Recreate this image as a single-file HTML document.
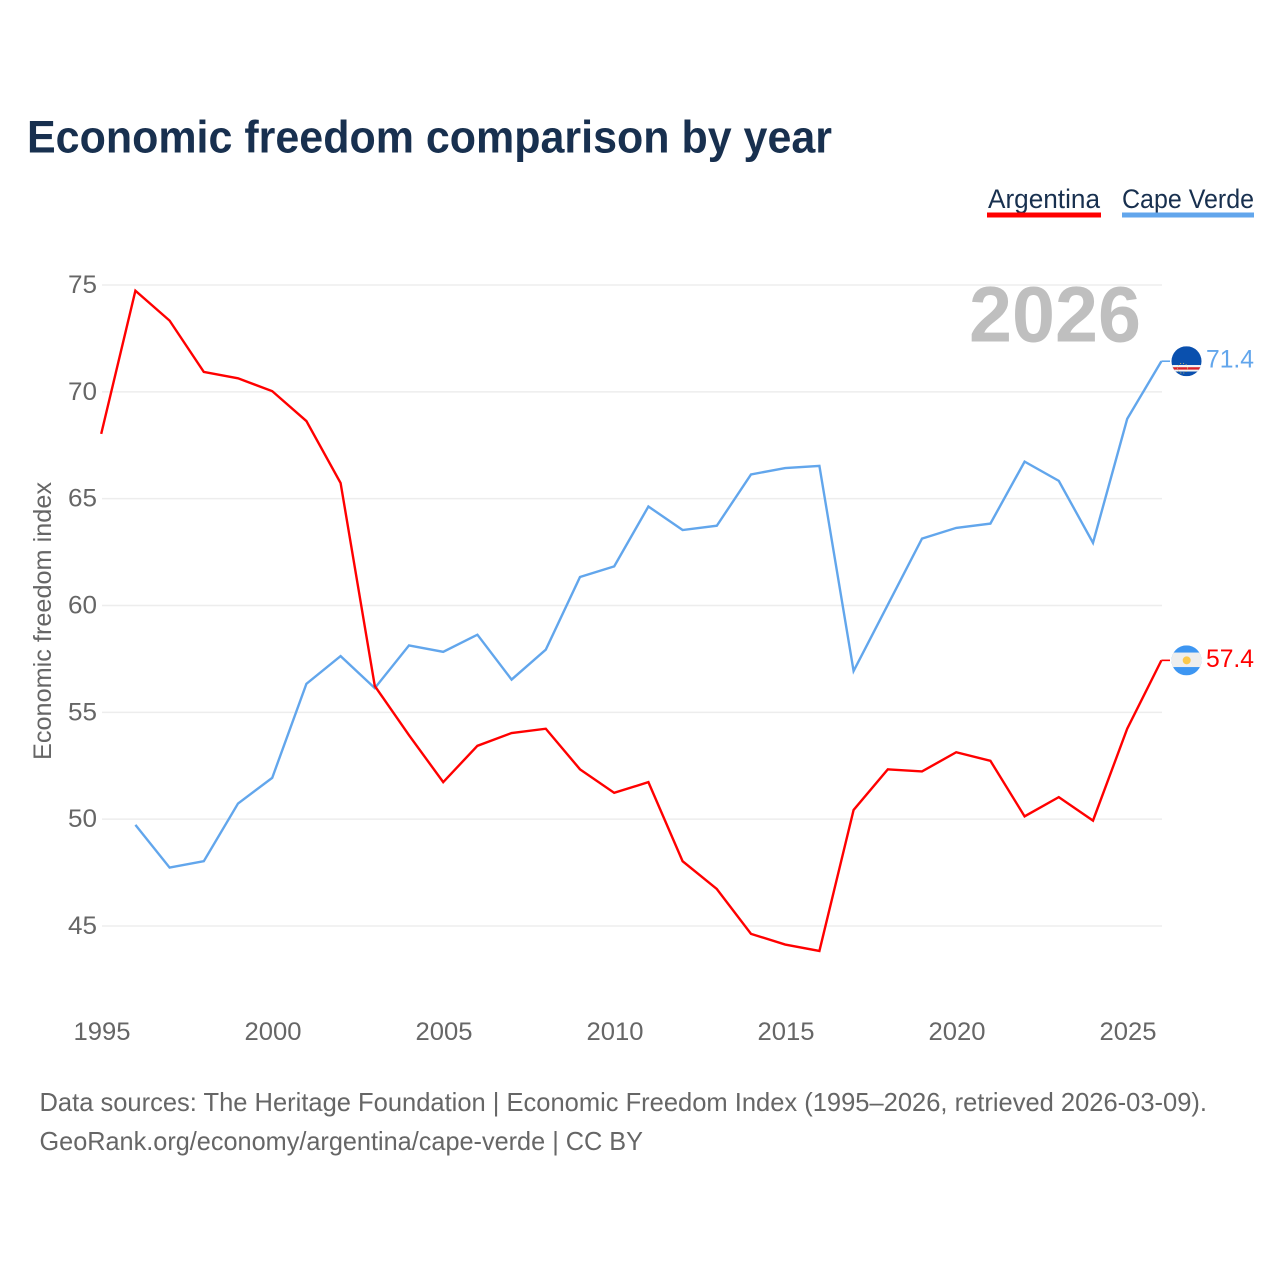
<!DOCTYPE html>
<html lang="en">
<head>
<meta charset="utf-8">
<title>Economic freedom comparison by year</title>
<style>
html,body{margin:0;padding:0;background:#fff;}
svg{display:block;font-family:"Liberation Sans",Arial,sans-serif;}
</style>
</head>
<body>
<svg id="chart" xmlns="http://www.w3.org/2000/svg" width="1280" height="1280" viewBox="0 0 1280 1280">
  <rect width="1280" height="1280" fill="#fff"/>
  <text x="27" y="152.5" font-size="45" font-weight="700" fill="#18304f" textLength="805" lengthAdjust="spacingAndGlyphs">Economic freedom comparison by year</text>
  <g>
    <text x="988" y="208" font-size="27" fill="#18304f" textLength="112" lengthAdjust="spacingAndGlyphs">Argentina</text>
    <rect x="987" y="212.5" width="114" height="5" fill="#ff0000"/>
  </g>
  <g>
    <text x="1122" y="208" font-size="27" fill="#18304f" textLength="132" lengthAdjust="spacingAndGlyphs">Cape Verde</text>
    <rect x="1122" y="212.5" width="132" height="5" fill="#62a6ec"/>
  </g>
  <g id="grid"></g>
  <g id="yLabels"></g>
  <g id="xLabels"></g>
  <text transform="translate(51,621) rotate(-90)" text-anchor="middle" font-size="25" fill="#666" textLength="278" lengthAdjust="spacingAndGlyphs">Economic freedom index</text>
  <text x="969" y="341.5" font-size="79" font-weight="700" fill="#bfbfbf" textLength="172" lengthAdjust="spacingAndGlyphs">2026</text>
  <g id="series"></g>
  <defs>
    <clipPath id="cvClip"><circle id="cvClipC" cx="1186.5" cy="361" r="15"/></clipPath>
    <clipPath id="arClip"><circle id="arClipC" cx="1186.5" cy="660.5" r="15"/></clipPath>
  </defs>
  <g id="flagCV"></g>
  <g id="flagAR"></g>
  <text x="39.5" y="1111" font-size="26" fill="#666" textLength="1167.5" lengthAdjust="spacingAndGlyphs">Data sources: The Heritage Foundation | Economic Freedom Index (1995–2026, retrieved 2026-03-09).</text>
  <text x="39.5" y="1150" font-size="26" fill="#666" textLength="603.5" lengthAdjust="spacingAndGlyphs">GeoRank.org/economy/argentina/cape-verde | CC BY</text>
</svg>
<script>
const years = [1995,1996,1997,1998,1999,2000,2001,2002,2003,2004,2005,2006,2007,2008,2009,2010,2011,2012,2013,2014,2015,2016,2017,2018,2019,2020,2021,2022,2023,2024,2025,2026];
const argentinaValues = [68.0,74.7,73.3,70.9,70.6,70.0,68.6,65.7,56.2,53.9,51.7,53.4,54.0,54.2,52.3,51.2,51.7,48.0,46.7,44.6,44.1,43.8,50.4,52.3,52.2,53.1,52.7,50.1,51.0,49.9,54.2,57.4];
const capeVerdeValues = [null,49.7,47.7,48.0,50.7,51.9,56.3,57.6,56.1,58.1,57.8,58.6,56.5,57.9,61.3,61.8,64.6,63.5,63.7,66.1,66.4,66.5,56.9,60.0,63.1,63.6,63.8,66.7,65.8,62.9,68.7,71.4];
const yTicks = [45,50,55,60,65,70,75];
const xTicks = [1995,2000,2005,2010,2015,2020,2025];

const NS = 'http://www.w3.org/2000/svg';
function xScale(year) { return 102 + (year - 1995) * (1128 - 102) / 30; }
function yScale(v) { return 926 + (v - 45) * (285 - 926) / 30; }
function lineX(year) { return xScale(year) - 0.8; }
function lineY(v) { return yScale(v) - 0.7; }
function make(tag, attrs, parent) {
  const el = document.createElementNS(NS, tag);
  for (const k in attrs) el.setAttribute(k, attrs[k]);
  parent.appendChild(el);
  return el;
}
const grid = document.getElementById('grid');
const yLabels = document.getElementById('yLabels');
const xLabels = document.getElementById('xLabels');
const series = document.getElementById('series');

yTicks.forEach(function (t) {
  const line = make('line', {x1: 102, x2: 1162, y1: yScale(t), y2: yScale(t), stroke: '#ededed', 'stroke-width': 1.5}, grid);
  
  
  const label = make('text', {x: 97, y: yScale(t) + 8, 'text-anchor': 'end', 'font-size': 25, fill: '#666', textLength: 29, lengthAdjust: 'spacingAndGlyphs'}, yLabels);
  
  
  label.textContent = t;
});
xTicks.forEach(function (t) {
  const label = make('text', {x: xScale(t), y: 1040, 'text-anchor': 'middle', 'font-size': 25, fill: '#666', textLength: 57, lengthAdjust: 'spacingAndGlyphs'}, xLabels);
  
  
  label.textContent = t;
});

function linePoints(values) {
  const pts = [];
  values.forEach(function (v, i) {
    if (v !== null) pts.push(lineX(years[i]).toFixed(2) + ',' + lineY(v).toFixed(2));
  });
  return pts.join(' ');
}
const cvLine = make('polyline', {points: linePoints(capeVerdeValues), fill: 'none', stroke: '#62a6ec', 'stroke-width': 2.4, 'stroke-linejoin': 'miter'}, series);


const arLine = make('polyline', {points: linePoints(argentinaValues), fill: 'none', stroke: '#ff0000', 'stroke-width': 2.4, 'stroke-linejoin': 'miter'}, series);



const lastIdx = years.length - 1;
const lastX = lineX(years[lastIdx]);
const cvEndY = lineY(capeVerdeValues[lastIdx]);
const arEndY = lineY(argentinaValues[lastIdx]);

const cvLeader = make('line', {x1: lastX, x2: 1170, y1: cvEndY, y2: cvEndY, stroke: '#62a6ec', 'stroke-width': 1.6}, series);


const arLeader = make('line', {x1: lastX, x2: 1170, y1: arEndY, y2: arEndY, stroke: '#ff0000', 'stroke-width': 1.6}, series);



const cvValue = make('text', {x: 1254, y: cvEndY + 6.5, 'text-anchor': 'end', 'font-size': 25, fill: '#62a6ec', textLength: 48, lengthAdjust: 'spacingAndGlyphs'}, series);


cvValue.textContent = capeVerdeValues[lastIdx].toFixed(1);
const arValue = make('text', {x: 1254, y: arEndY + 6.5, 'text-anchor': 'end', 'font-size': 25, fill: '#ff0000', textLength: 48, lengthAdjust: 'spacingAndGlyphs'}, series);


arValue.textContent = argentinaValues[lastIdx].toFixed(1);

document.getElementById('cvClipC').setAttribute('cy', cvEndY);
document.getElementById('arClipC').setAttribute('cy', arEndY);

const flagCV = document.getElementById('flagCV');
flagCV.setAttribute('clip-path', 'url(#cvClip)');
make('rect', {x: 1171, y: cvEndY - 15, width: 31, height: 30, fill: '#0a50ae'}, flagCV);
make('rect', {x: 1171, y: cvEndY + 3.8, width: 31, height: 6.5, fill: '#f4f4f4'}, flagCV);
make('rect', {x: 1171, y: cvEndY + 6, width: 31, height: 2.4, fill: '#d8222a'}, flagCV);
make('circle', {cx: 1182.5, cy: cvEndY + 7, r: 5, fill: 'none', stroke: '#e8c860', 'stroke-width': 0.8, 'stroke-dasharray': '1 2'}, flagCV);

const flagAR = document.getElementById('flagAR');
flagAR.setAttribute('clip-path', 'url(#arClip)');
make('rect', {x: 1171, y: arEndY - 15, width: 31, height: 30, fill: '#3d96f2'}, flagAR);
make('rect', {x: 1171, y: arEndY - 7.8, width: 31, height: 14.5, fill: '#eeeeee'}, flagAR);
make('circle', {cx: 1186.7, cy: arEndY, r: 4, fill: '#fbc84b'}, flagAR);
</script>
</body>
</html>
